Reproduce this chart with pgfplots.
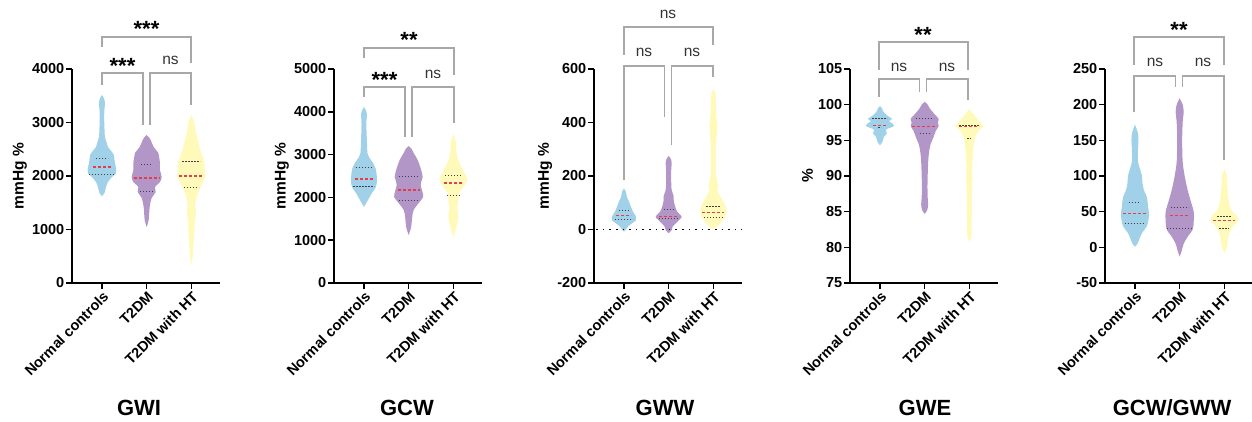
\documentclass[border=0pt]{standalone}
\usepackage{fontspec}
\setmainfont{Liberation Sans}
\usepackage{pgfplots}
\usepackage{pgfplotstable}
\pgfplotsset{compat=1.18}
\usepgfplotslibrary{fillbetween}

\definecolor{vblue}{RGB}{160,209,232}
\definecolor{vpurple}{RGB}{178,150,200}
\definecolor{vyellow}{RGB}{255,250,185}
\definecolor{medred}{RGB}{228,62,72}
\definecolor{brkgray}{RGB}{168,168,168}

\newcommand{\tickfont}{\fontsize{14.5}{16}\selectfont\bfseries}
\newcommand{\labfont}{\fontsize{15.5}{17}\selectfont\bfseries}

% violin outlines: y value, half width in px (1 category = 44.7 px)
% --- GWI
\pgfplotstableread[row sep=\\]{y w\\ 1626 0\\ 1680 2.5\\ 1794 4\\ 1888 6\\ 1980 10\\ 2050 14\\ 2112 14.3\\ 2200 13.5\\ 2300 12.5\\ 2390 12\\ 2450 10\\ 2542 6\\ 2636 4.5\\ 2730 3\\ 2900 2.5\\ 3100 2.2\\ 3250 2.5\\ 3364 3\\ 3450 2\\ 3514 0\\}\gwiA
\pgfplotstableread[row sep=\\]{y w\\ 1047 0\\ 1178 2\\ 1421 3\\ 1589 5\\ 1701 9\\ 1794 8.3\\ 1888 13.3\\ 1981 15\\ 2112 13.3\\ 2243 13.3\\ 2350 12.5\\ 2430 11.7\\ 2542 7\\ 2673 4\\ 2720 2.5\\ 2766 0\\}\gwiB
\pgfplotstableread[row sep=\\]{y w\\ 336 0\\ 500 1.5\\ 673 2\\ 991 3\\ 1178 3.5\\ 1308 4.7\\ 1421 4\\ 1551 4.5\\ 1682 6.7\\ 1738 8\\ 1869 11\\ 1981 14\\ 2019 14\\ 2243 13\\ 2300 12.5\\ 2430 10\\ 2542 8\\ 2673 6.5\\ 2860 4\\ 3000 3\\ 3140 0\\}\gwiC
% --- GCW
\pgfplotstableread[row sep=\\]{y w\\ 1776 0\\ 1939 4\\ 2103 8\\ 2243 12\\ 2407 13\\ 2560 12.5\\ 2687 11.5\\ 2804 9\\ 2944 5\\ 3037 3.5\\ 3300 3\\ 3600 2.5\\ 3800 2.5\\ 3925 3\\ 4030 2\\ 4112 0\\}\gcwA
\pgfplotstableread[row sep=\\]{y w\\ 1121 0\\ 1308 2.5\\ 1542 3.5\\ 1706 5\\ 1869 10\\ 2009 14.5\\ 2150 13.5\\ 2290 12\\ 2400 13\\ 2477 14\\ 2640 12.5\\ 2874 9\\ 3037 5\\ 3130 3\\ 3200 0\\}\gcwB
\pgfplotstableread[row sep=\\]{y w\\ 1075 0\\ 1200 2\\ 1308 3\\ 1542 5\\ 1650 4.5\\ 1752 4\\ 1939 5\\ 2103 6\\ 2243 10\\ 2407 14\\ 2523 12\\ 2710 8\\ 2944 4\\ 3100 3\\ 3300 2.5\\ 3481 0\\}\gcwC
% --- GWW
\pgfplotstableread[row sep=\\]{y w\\ -8 0\\ -2 1.5\\ 11 4\\ 23 8\\ 35 12\\ 48 12\\ 67 9\\ 85 7\\ 104 5\\ 123 2.8\\ 140 2\\ 154 0\\}\gwwA
\pgfplotstableread[row sep=\\]{y w\\ -14 0\\ -2 3\\ 11 4\\ 23 7\\ 38 11\\ 48 13\\ 67 8.5\\ 79 7\\ 92 6\\ 110 5\\ 125 5\\ 148 3\\ 185 2.5\\ 220 2.5\\ 250 3\\ 265 2\\ 275 0\\}\gwwB
\pgfplotstableread[row sep=\\]{y w\\ 0 0\\ 11 4\\ 29 8\\ 48 12\\ 67 13\\ 85 12.5\\ 104 10\\ 123 7\\ 148 4\\ 164 5\\ 185 3.5\\ 220 2.5\\ 300 2.5\\ 362 3.5\\ 390 4\\ 420 3\\ 480 2.5\\ 510 2\\ 525 0\\}\gwwC
% --- GWE
\pgfplotstableread[row sep=\\]{y w\\ 94.3 0\\ 94.8 2.5\\ 95.5 4\\ 96.0 7\\ 96.5 6\\ 97.0 14\\ 97.4 12\\ 97.7 9\\ 98.0 12\\ 98.5 7\\ 99.0 3.5\\ 99.5 2\\ 99.8 0\\}\gweA
\pgfplotstableread[row sep=\\]{y w\\ 84.7 0\\ 85.2 2.5\\ 86.0 3.5\\ 87.0 3\\ 88.5 2.8\\ 90.0 3\\ 92.0 3.5\\ 93.5 4.5\\ 94.5 6\\ 95.5 9\\ 96.3 11\\ 97.0 14\\ 97.5 13\\ 98.0 14\\ 98.8 9\\ 99.5 5\\ 100.0 3\\ 100.4 0\\}\gweB
\pgfplotstableread[row sep=\\]{y w\\ 80.8 0\\ 81.5 2\\ 83.0 2.2\\ 85.0 2.5\\ 87.0 2.5\\ 89.0 3\\ 91.0 3\\ 93.0 3.5\\ 94.5 4.5\\ 95.5 6\\ 96.3 9\\ 97.0 14\\ 97.5 11\\ 98.0 8\\ 98.7 4\\ 99.4 0\\}\gweC
% --- GCW/GWW
\pgfplotstableread[row sep=\\]{y w\\ 1 0\\ 5 2.5\\ 10 4\\ 20 7\\ 30 12\\ 45 14\\ 58 13\\ 70 12\\ 80 9\\ 90 7.5\\ 100 7\\ 110 5\\ 120 3\\ 135 3\\ 150 3.5\\ 160 3\\ 172 0\\}\ratA
\pgfplotstableread[row sep=\\]{y w\\ -13 0\\ -5 2\\ 5 4\\ 15 8\\ 25 13\\ 35 14\\ 50 14\\ 65 11\\ 80 8\\ 100 5\\ 120 3\\ 150 2.5\\ 175 3\\ 190 4\\ 200 3\\ 209 0\\}\ratB
\pgfplotstableread[row sep=\\]{y w\\ -8 0\\ 0 2.5\\ 10 3.5\\ 20 5\\ 30 9\\ 38 14\\ 45 12\\ 50 8\\ 60 5\\ 70 4\\ 85 3\\ 100 2.5\\ 110 0\\}\ratC

\pgfplotsset{
  violinpanel/.style={
    scale only axis, width=148pt, height=214pt,
    xmin=-0.67, xmax=2.64,
    axis x line=bottom, axis y line=left,
    axis line style={line width=1.5pt,-},
    every tick/.style={line width=1.5pt, black},
    major tick length=6pt, tick align=outside,
    xtick={0,1,2}, xticklabels={Normal controls,T2DM,T2DM with HT},
    x tick label style={rotate=45, anchor=north east, inner sep=1pt, font=\tickfont},
    y tick label style={font=\tickfont, inner sep=1.5pt},
    ylabel style={font=\labfont},
    scaled y ticks=false, clip=false,
  },
  qdot/.style={black!75, line width=1pt, dash pattern=on 1.2pt off 1.8pt},
  qmed/.style={medred, line width=1.1pt, dash pattern=on 3pt off 2pt},
}

% #1 centre, #2 table, #3 colour, #4 id
\newcommand{\violin}[4]{%
  \addplot[draw=none, smooth, name path=R#4] table[x expr=#1+(\thisrow{w})/44.7, y=y] {#2};
  \addplot[draw=none, smooth, name path=L#4] table[x expr=#1-(\thisrow{w})/44.7, y=y] {#2};
  \addplot[fill=#3, draw=none] fill between[of=R#4 and L#4];
}
% #1 centre, upper (y,w), median (y,w), lower (y,w)
\newcommand{\quart}[7]{%
  \addplot[qdot] table[row sep=\\, x expr=#1+(\thisrow{w})/44.7, y=y] {w y\\ -#3 #2\\ #3 #2\\};
  \addplot[qmed] table[row sep=\\, x expr=#1+(\thisrow{w})/44.7, y=y] {w y\\ -#5 #4\\ #5 #4\\};
  \addplot[qdot] table[row sep=\\, x expr=#1+(\thisrow{w})/44.7, y=y] {w y\\ -#7 #6\\ #7 #6\\};
}
\newcommand{\brk}[5]{\draw[brkgray, line width=1.3pt] (#1,#4) -- (#1,#3) -- (#2,#3) -- (#2,#5);}
\newcommand{\stars}[3]{\node[font=\fontsize{22}{24}\selectfont\bfseries, anchor=base, inner sep=0pt] at (#1,#2+12.5) {#3};}
\newcommand{\ns}[2]{\node[font=\fontsize{15.5}{17}\selectfont, text=black!80, anchor=base, inner sep=0pt] at (#1,#2+4) {ns};}
\newcommand{\ttl}[2]{\node[font=\fontsize{22}{24}\selectfont\bfseries, anchor=base, inner sep=0pt] at (#1,415) {#2};}

\begin{document}
\begin{tikzpicture}
% GWI
\begin{axis}[violinpanel, at={(72pt,0pt)}, ymin=0, ymax=4000,
  ytick={0,1000,2000,3000,4000}, yticklabels={0,1000,2000,3000,4000}, ylabel={mmHg \%}]
  \violin{0}{\gwiA}{vblue}{a}
  \violin{1}{\gwiB}{vpurple}{b}
  \violin{2}{\gwiC}{vyellow}{c}
  \quart{0}{2318}{6}{2168}{9}{2037}{13}
  \quart{1}{2224}{5.5}{1963}{13}{1701}{6.7}
  \quart{2}{2262}{9}{2000}{12}{1776}{7.5}
\end{axis}
% GCW
\begin{axis}[violinpanel, at={(334pt,0pt)}, ymin=0, ymax=5000,
  ytick={0,1000,2000,3000,4000,5000}, yticklabels={0,1000,2000,3000,4000,5000}, ylabel={mmHg \%}]
  \violin{0}{\gcwA}{vblue}{a}
  \violin{1}{\gcwB}{vpurple}{b}
  \violin{2}{\gcwC}{vyellow}{c}
  \quart{0}{2687}{8}{2430}{9}{2266}{10.5}
  \quart{1}{2477}{10}{2173}{11}{1939}{10}
  \quart{2}{2500}{8.3}{2336}{9}{2033}{6.7}
\end{axis}
% GWW
\begin{axis}[violinpanel, at={(594pt,0pt)}, ymin=-200, ymax=600,
  ytick={-200,0,200,400,600}, yticklabels={-200,0,200,400,600}, ylabel={mmHg \%}]
  \violin{0}{\gwwA}{vblue}{a}
  \violin{1}{\gwwB}{vpurple}{b}
  \violin{2}{\gwwC}{vyellow}{c}
  \quart{0}{72}{5.3}{52}{7.5}{38}{9}
  \quart{1}{75}{5}{50}{10}{40}{10}
  \quart{2}{85}{7}{65}{11}{45}{9.5}
  \addplot[black, line width=1.5pt, dash pattern=on 1.6pt off 5pt] coordinates {(-0.62,0) (2.64,0)};
\end{axis}
% GWE
\begin{axis}[violinpanel, at={(850pt,0pt)}, ymin=75, ymax=105,
  ytick={75,80,85,90,95,100,105}, yticklabels={75,80,85,90,95,100,105}, ylabel={\%}]
  \violin{0}{\gweA}{vblue}{a}
  \violin{1}{\gweB}{vpurple}{b}
  \violin{2}{\gweC}{vyellow}{c}
  \quart{0}{98.0}{7.5}{97.05}{6.7}{96.8}{1.5}
  \quart{1}{98.0}{9}{97.0}{12.5}{96.0}{5}
  \quart{2}{97.05}{10}{97.0}{10}{95.3}{2}
\end{axis}
% GCW/GWW
\begin{axis}[violinpanel, at={(1105pt,0pt)}, ymin=-50, ymax=250,
  ytick={-50,0,50,100,150,200,250}, yticklabels={-50,0,50,100,150,200,250}]
  \violin{0}{\ratA}{vblue}{a}
  \violin{1}{\ratB}{vpurple}{b}
  \violin{2}{\ratC}{vyellow}{c}
  \quart{0}{63}{5.8}{47}{11.7}{33}{10.3}
  \quart{1}{56}{9}{44}{10}{27}{12.5}
  \quart{2}{43.5}{7}{38}{11}{26}{5}
\end{axis}
% brackets, significance marks and titles, in pixel positions
\begin{scope}[x=1pt, y=-1pt, shift={(0pt,283pt)}]
  \brk{102}{191}{37}{47}{63}
  \brk{102}{143}{73}{85}{125}
  \brk{150}{191}{73}{125}{105}
  \stars{146.5}{24}{***} \stars{122.5}{61}{***} \ns{170.5}{61}
  \brk{364}{454}{48}{58}{75}
  \brk{364}{405}{87}{97}{137}
  \brk{412}{454}{87}{137}{123}
  \stars{409}{35}{**} \stars{384.5}{75}{***} \ns{433}{75}
  \brk{624}{713}{27}{55}{45}
  \brk{624}{664.5}{66}{180}{117}
  \brk{671.5}{713}{66}{145}{77}
  \ns{668}{15} \ns{644}{53} \ns{692}{53}
  \brk{879}{968}{42}{70}{70}
  \brk{879}{919.5}{79}{97}{92}
  \brk{926.5}{968}{79}{92}{100}
  \stars{923}{30}{**} \ns{899}{68} \ns{947}{68}
  \brk{1134}{1224}{37}{65}{65}
  \brk{1134}{1175.5}{76}{112}{87}
  \brk{1182.5}{1224}{76}{87}{160}
  \stars{1179}{25}{**} \ns{1155}{63} \ns{1203}{63}
  \ttl{139}{GWI} \ttl{407}{GCW} \ttl{665}{GWW} \ttl{925}{GWE} \ttl{1172}{GCW/GWW}
\end{scope}
\pgfresetboundingbox
\path[use as bounding box] (0pt,-139pt) rectangle (1252pt,283pt);
\end{tikzpicture}
\end{document}
